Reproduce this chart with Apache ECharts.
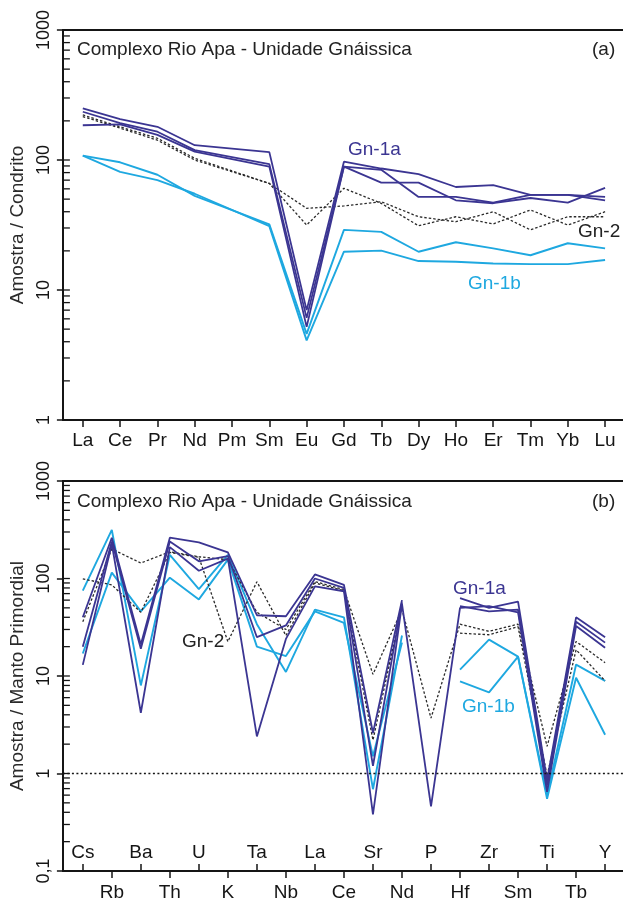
<!DOCTYPE html>
<html>
<head>
<meta charset="utf-8">
<script src="https://cdn.jsdelivr.net/npm/echarts@6/dist/echarts.min.js"></script>
<style>
  html, body { margin: 0; padding: 0; background: #fff; }
  #c { width: 623px; height: 902px; }
</style>
</head>
<body>
<div id="c"></div>
<script>
// ---------- (a) REE normalised to chondrite ----------
const reeElements = ['La', 'Ce', 'Pr', 'Nd', 'Pm', 'Sm', 'Eu', 'Gd', 'Tb', 'Dy', 'Ho', 'Er', 'Tm', 'Yb', 'Lu'];
const reeGn1a = [
  [250, 206, 180, 130, null, 115, 7.0, 97, 86, 78, 62, 64, 54, 54, 49],
  [235, 192, 165, 119, null, 93, 6.1, 89, 84, 52, 52, 47, 54, 54, 52],
  [185, 188, 156, 116, null, 89, 5.2, 89, 67, 67, 49, 46.5, 51, 47, 61]
];
const reeGn1b = [
  [108, 96, 77, 53, null, 32, 4.6, 29, 28, 19.7, 23.3, 20.9, 18.5, 22.9, 20.9],
  [108, 81, 70, 55, null, 31, 4.1, 19.7, 20.1, 16.7, 16.5, 16.0, 15.8, 15.8, 17.0]
];
const reeGn2 = [
  [222, 180, 147, 103, null, 66, 31.6, 60.6, 46.4, 31.2, 36.6, 32.2, 41.3, 31.6, 40],
  [216, 176, 142, 100, null, 66, 42.5, 44.3, 47.8, 36.6, 33.5, 40, 29, 36.6, 36.6]
];

// ---------- (b) trace elements normalised to primitive mantle ----------
const spiderElements = ['Cs', 'Rb', 'Ba', 'Th', 'U', 'K', 'Ta', 'Nb', 'La', 'Ce', 'Sr', 'Nd', 'P', 'Hf', 'Zr', 'Sm', 'Ti', 'Tb', 'Y'];
const spiderGn1a = [
  [40, 262, 21, 262, 235, 185, 42, 41, 110, 86, 2.6, 60, null, 63, 50, 58, 0.85, 40, 25],
  [20, 240, 19, 240, 150, 170, 25, 33, 100, 80, 1.2, 57, null, 52, 46, 48, 0.75, 36, 22],
  [13, 225, 4.2, 210, 120, 160, 2.4, 24, 83, 74, 0.38, 55, 0.46, 50, 52, 45, 0.65, 32.5, 19.5]
];
const spiderGn1b = [
  [75, 315, 8, 175, 78, 175, 34, 11, 48, 40, 0.69, 26, null, 11.6, 23.6, 15.8, 0.6, 13.1, 8.9],
  [17, 115, 46, 102, 61, 156, 20, 16, 46, 35, 1.5, 22, null, 8.8, 6.8, 15.8, 0.55, 9.6, 2.5]
];
const spiderGn2 = [
  [36, 201, 144, 188, 167, 156, 45, 30, 93, 77, 10.4, 48, 3.7, 34, 28.7, 34, 1.9, 22.6, 13.7],
  [99, 86, 45, 185, 165, 22.5, 92.6, 26, 90, 75, 2.2, 52, null, 27.5, 26.5, 32, 0.95, 18.6, 8.9]
];

// Log-axis tick values (1..9 per decade)
const minorTicksA = [];
for (const d of [1, 10, 100]) for (let k = 1; k <= 9; k++) minorTicksA.push(k * d);
minorTicksA.push(1000);
const minorTicksB = [];
for (const d of [0.1, 1, 10, 100]) for (let k = 1; k <= 9; k++) minorTicksB.push(+(k * d).toFixed(2));
minorTicksB.push(1000);

const FONT = '"Liberation Sans", Arial, Helvetica, sans-serif';
const PURPLE = '#3b3592';
const CYAN = '#1ea8e0';
const DOT = '#2a2a2a';
const INK = '#151515';

const toPairs = vals => vals.map((v, i) => [i, v == null ? '-' : v]);
const range = n => Array.from({ length: n }, (_, i) => i);

const chart = echarts.init(document.getElementById('c'));

function innerTicks(params, api) {
  const y = api.coord([api.value(0), api.value(1)])[1];
  const x0 = params.coordSys.x;
  return {
    type: 'line',
    shape: { x1: x0, y1: y, x2: x0 + 7, y2: y },
    style: { stroke: INK, lineWidth: 1.3 }
  };
}

const axisLineStyle = { color: INK, width: 2 };
const labelText = { fontFamily: FONT, fontSize: 19, color: INK };

const series = [];
function addLines(groups, style, xi, yi, connect) {
  groups.forEach(vals => {
    series.push({
      type: 'line',
      xAxisIndex: xi,
      yAxisIndex: yi,
      data: toPairs(vals),
      symbol: 'none',
      connectNulls: connect,
      silent: true,
      lineStyle: style
    });
  });
}

const styleGn1b = { color: CYAN, width: 1.9 };
const styleGn2 = { color: DOT, width: 1.3, type: [2.5, 2] };
const styleGn1a = { color: PURPLE, width: 1.8 };

addLines(reeGn1b, styleGn1b, 0, 0, true);
addLines(reeGn2, styleGn2, 0, 0, true);
addLines(reeGn1a, styleGn1a, 0, 0, true);

addLines(spiderGn1b, styleGn1b, 2, 1, false);
addLines(spiderGn2, styleGn2, 2, 1, false);
addLines(spiderGn1a, styleGn1a, 2, 1, false);

// reference level 1 in panel (b)
series.push({
  type: 'line', xAxisIndex: 2, yAxisIndex: 1, data: [], silent: true,
  markLine: {
    silent: true, symbol: 'none', label: { show: false },
    lineStyle: { color: INK, width: 1.3, type: [2, 2.5] },
    data: [{ yAxis: 1 }]
  }
});

series.push({
  type: 'custom', xAxisIndex: 0, yAxisIndex: 0, silent: true, clip: false,
  data: minorTicksA.map(v => [0, v]), renderItem: innerTicks
});
series.push({
  type: 'custom', xAxisIndex: 2, yAxisIndex: 1, silent: true, clip: false,
  data: minorTicksB.map(v => [0, v]), renderItem: innerTicks
});

const evenIdx = range(spiderElements.length).filter(i => i % 2 === 0);
const oddIdx = range(spiderElements.length).filter(i => i % 2 === 1);

const option = {
  animation: false,
  backgroundColor: '#fff',
  grid: [
    { left: 60, right: 0, top: 30, height: 390 },
    { left: 60, right: 0, top: 481, height: 391 }
  ],
  xAxis: [
    {
      gridIndex: 0, type: 'value', position: 'bottom', min: -0.5333, max: 14.48,
      axisLine: { onZero: false, lineStyle: axisLineStyle },
      axisTick: { customValues: range(reeElements.length), length: 7, lineStyle: { color: INK, width: 1.5 } },
      axisLabel: { customValues: range(reeElements.length), margin: 11, ...labelText,
        formatter: v => reeElements[Math.round(v)] },
      splitLine: { show: false }
    },
    {
      gridIndex: 0, type: 'value', position: 'top', min: -0.5333, max: 14.48,
      axisLine: { onZero: false, lineStyle: axisLineStyle },
      axisTick: { show: false }, axisLabel: { show: false }, splitLine: { show: false }
    },
    {
      gridIndex: 1, type: 'value', position: 'bottom', min: -0.6857, max: 18.617,
      axisLine: { onZero: false, lineStyle: axisLineStyle },
      axisTick: { customValues: evenIdx, inside: true, length: 7, lineStyle: { color: INK, width: 1.5 } },
      axisLabel: { customValues: evenIdx, inside: true, margin: 9, ...labelText,
        formatter: v => spiderElements[Math.round(v)] },
      splitLine: { show: false }
    },
    {
      gridIndex: 1, type: 'value', position: 'bottom', min: -0.6857, max: 18.617,
      axisLine: { show: false, onZero: false },
      axisTick: { customValues: oddIdx, length: 7, lineStyle: { color: INK, width: 1.5 } },
      axisLabel: { customValues: oddIdx, margin: 12, ...labelText,
        formatter: v => spiderElements[Math.round(v)] },
      splitLine: { show: false }
    },
    {
      gridIndex: 1, type: 'value', position: 'top', min: -0.6857, max: 18.617,
      axisLine: { onZero: false, lineStyle: axisLineStyle },
      axisTick: { show: false }, axisLabel: { show: false }, splitLine: { show: false }
    }
  ],
  yAxis: [
    {
      gridIndex: 0, type: 'log', logBase: 10, min: 1, max: 1000,
      name: 'Amostra / Condrito', nameLocation: 'middle', nameGap: 34,
      nameTextStyle: { fontFamily: FONT, fontSize: 19, color: '#2a2a2a' },
      axisLine: { onZero: false, lineStyle: axisLineStyle },
      axisTick: { length: 6, lineStyle: { color: INK, width: 1.5 } },
      axisLabel: { rotate: 90, margin: 10, fontFamily: FONT, fontSize: 18, color: INK,
        formatter: v => String(Math.round(v)) },
      splitLine: { show: false }
    },
    {
      gridIndex: 1, type: 'log', logBase: 10, min: 0.1, max: 1000,
      name: 'Amostra / Manto Primordial', nameLocation: 'middle', nameGap: 34,
      nameTextStyle: { fontFamily: FONT, fontSize: 19, color: '#2a2a2a' },
      axisLine: { onZero: false, lineStyle: axisLineStyle },
      axisTick: { length: 6, lineStyle: { color: INK, width: 1.5 } },
      axisLabel: { rotate: 90, margin: 10, fontFamily: FONT, fontSize: 18, color: INK,
        formatter: v => (v < 0.5 ? '0,1' : String(Math.round(v))) },
      splitLine: { show: false }
    }
  ],
  graphic: [
    { type: 'text', left: 77, top: 40.5, style: { text: 'Complexo Rio Apa - Unidade Gnáissica', font: '19px ' + FONT, fill: '#222' } },
    { type: 'text', left: 592, top: 40, style: { text: '(a)', font: '19px ' + FONT, fill: '#222' } },
    { type: 'text', left: 348, top: 140.5, style: { text: 'Gn-1a', font: '19px ' + FONT, fill: PURPLE } },
    { type: 'text', left: 578, top: 222.5, style: { text: 'Gn-2', font: '19px ' + FONT, fill: '#222' } },
    { type: 'text', left: 468, top: 274.5, style: { text: 'Gn-1b', font: '19px ' + FONT, fill: CYAN } },
    { type: 'text', left: 77, top: 492.5, style: { text: 'Complexo Rio Apa - Unidade Gnáissica', font: '19px ' + FONT, fill: '#222' } },
    { type: 'text', left: 592, top: 492, style: { text: '(b)', font: '19px ' + FONT, fill: '#222' } },
    { type: 'text', left: 453, top: 579, style: { text: 'Gn-1a', font: '19px ' + FONT, fill: PURPLE } },
    { type: 'text', left: 462, top: 697.5, style: { text: 'Gn-1b', font: '19px ' + FONT, fill: CYAN } },
    { type: 'text', left: 182, top: 632.5, style: { text: 'Gn-2', font: '19px ' + FONT, fill: '#222' } }
  ],
  series
};

chart.setOption(option);
</script>
</body>
</html>
